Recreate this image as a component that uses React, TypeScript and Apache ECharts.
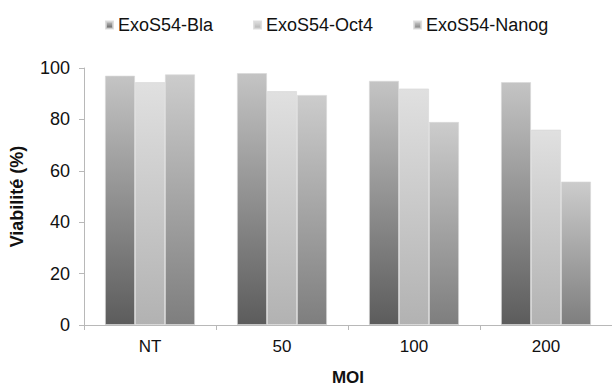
import React, { useEffect, useRef } from "react";
import * as echarts from "echarts";

const categories = ["NT", "50", "100", "200"];
const seriesNames = ["ExoS54-Bla", "ExoS54-Oct4", "ExoS54-Nanog"];
const blaValues = [97, 98, 95, 94.5];
const oct4Values = [94.5, 91, 92, 76];
const nanogValues = [97.5, 89.5, 79, 55.8];
const yTicks = [0, 20, 40, 60, 80, 100];

const grad = (top: string, bottom: string) =>
  new echarts.graphic.LinearGradient(0, 0, 0, 1, [
    { offset: 0, color: top },
    { offset: 1, color: bottom },
  ]);

export default function App() {
  const ref = useRef<HTMLDivElement>(null);
  useEffect(() => {
    if (!ref.current) return;
    const chart = echarts.init(ref.current, undefined, { renderer: "svg" });
    const font = "Liberation Sans";
    const colors = [
      grad("#c4c4c4", "#5c5c5c"),
      grad("#e0e0e0", "#b2b2b2"),
      grad("#cccccc", "#7e7e7e"),
    ];
    const data = [blaValues, oct4Values, nanogValues];
    chart.setOption({
      animation: false,
      backgroundColor: "#ffffff",
      textStyle: { fontFamily: font },
      legend: {
        left: 100,
        top: 11,
        itemWidth: 7,
        itemHeight: 7,
        itemGap: 40,
        icon: "rect",
        textStyle: { fontSize: 18, color: "#111", fontFamily: font },
        data: seriesNames,
      },
      grid: { left: 82, right: -2, top: 68, bottom: 64, containLabel: false },
      xAxis: {
        type: "category",
        data: categories,
        axisLine: { lineStyle: { color: "#b8b8b8", width: 1 } },
        axisTick: { show: true, length: 5, lineStyle: { color: "#b8b8b8" } },
        axisLabel: { fontSize: 17, color: "#111", margin: 13, fontFamily: font },
        name: "MOI",
        nameLocation: "middle",
        nameGap: 44,
        nameTextStyle: { fontSize: 17, fontWeight: "bold", color: "#111", fontFamily: font },
      },
      yAxis: {
        type: "value",
        min: yTicks[0],
        max: yTicks[yTicks.length - 1],
        interval: 20,
        splitLine: { show: false },
        axisLine: { show: true, lineStyle: { color: "#b8b8b8", width: 1 } },
        axisTick: { show: true, length: 5, lineStyle: { color: "#b8b8b8" } },
        axisLabel: { fontSize: 18, color: "#111", margin: 14, fontFamily: font },
        name: "Viabilité (%)",
        nameLocation: "middle",
        nameGap: 58,
        nameTextStyle: { fontSize: 18, fontWeight: "bold", color: "#111", fontFamily: font },
      },
      series: seriesNames.map((name, i) => ({
        name,
        type: "bar",
        data: data[i],
        barWidth: 30,
        barGap: "0%",
        itemStyle: {
          color: colors[i],
          borderColor: "rgba(215,215,215,0.8)",
          borderWidth: 0.8,
        },
      })),
    });
    return () => chart.dispose();
  }, []);
  return <div ref={ref} style={{ width: 612, height: 391, position: "absolute", left: 0, top: 0 }} />;
}
